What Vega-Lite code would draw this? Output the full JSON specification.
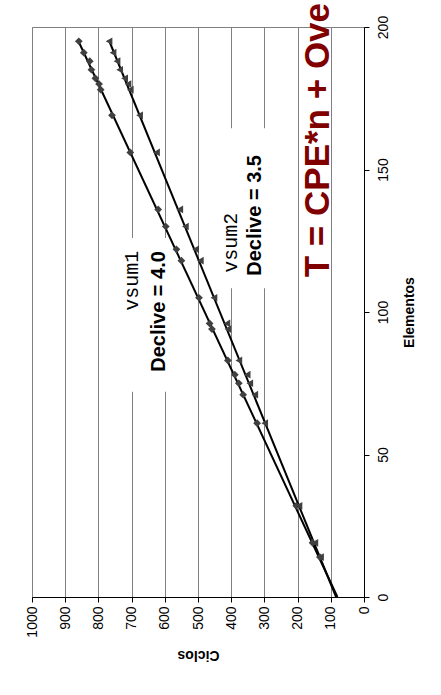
{
  "$schema": "https://vega.github.io/schema/vega-lite/v6.json",
  "autosize": {"type": "none"},
  "width": 332,
  "height": 570,
  "padding": {"left": 32, "top": 27, "right": 77, "bottom": 98},
  "background": "white",
  "config": {
    "view": {"stroke": "#808080", "strokeWidth": 1},
    "font": "Liberation Sans",
    "axis": {
      "labelFont": "Liberation Sans",
      "titleFont": "Liberation Sans",
      "labelColor": "black",
      "titleColor": "black",
      "domainColor": "black",
      "tickColor": "black",
      "labelFontSize": 14,
      "titleFontSize": 14,
      "titleFontWeight": "bold",
      "tickSize": 5,
      "labelOverlap": false
    }
  },
  "datasets": {
    "points": [
      {"serie": "vsum1", "Elementos": 195, "Ciclos": 859},
      {"serie": "vsum1", "Elementos": 191, "Ciclos": 844},
      {"serie": "vsum1", "Elementos": 188, "Ciclos": 826},
      {"serie": "vsum1", "Elementos": 185, "Ciclos": 821},
      {"serie": "vsum1", "Elementos": 182, "Ciclos": 809},
      {"serie": "vsum1", "Elementos": 180, "Ciclos": 798},
      {"serie": "vsum1", "Elementos": 178, "Ciclos": 793},
      {"serie": "vsum1", "Elementos": 169, "Ciclos": 759},
      {"serie": "vsum1", "Elementos": 156, "Ciclos": 704},
      {"serie": "vsum1", "Elementos": 136, "Ciclos": 620},
      {"serie": "vsum1", "Elementos": 130, "Ciclos": 597},
      {"serie": "vsum1", "Elementos": 122, "Ciclos": 565},
      {"serie": "vsum1", "Elementos": 118, "Ciclos": 550},
      {"serie": "vsum1", "Elementos": 105, "Ciclos": 497},
      {"serie": "vsum1", "Elementos": 96, "Ciclos": 465},
      {"serie": "vsum1", "Elementos": 94, "Ciclos": 458},
      {"serie": "vsum1", "Elementos": 83, "Ciclos": 410},
      {"serie": "vsum1", "Elementos": 78, "Ciclos": 389},
      {"serie": "vsum1", "Elementos": 75, "Ciclos": 377},
      {"serie": "vsum1", "Elementos": 71, "Ciclos": 364},
      {"serie": "vsum1", "Elementos": 61, "Ciclos": 322},
      {"serie": "vsum1", "Elementos": 32, "Ciclos": 204},
      {"serie": "vsum1", "Elementos": 19, "Ciclos": 155},
      {"serie": "vsum1", "Elementos": 14, "Ciclos": 133},
      {"serie": "vsum2", "Elementos": 195, "Ciclos": 768},
      {"serie": "vsum2", "Elementos": 191, "Ciclos": 756},
      {"serie": "vsum2", "Elementos": 188, "Ciclos": 744},
      {"serie": "vsum2", "Elementos": 185, "Ciclos": 736},
      {"serie": "vsum2", "Elementos": 182, "Ciclos": 721},
      {"serie": "vsum2", "Elementos": 180, "Ciclos": 711},
      {"serie": "vsum2", "Elementos": 178, "Ciclos": 704},
      {"serie": "vsum2", "Elementos": 169, "Ciclos": 676},
      {"serie": "vsum2", "Elementos": 156, "Ciclos": 625},
      {"serie": "vsum2", "Elementos": 136, "Ciclos": 555},
      {"serie": "vsum2", "Elementos": 130, "Ciclos": 538},
      {"serie": "vsum2", "Elementos": 122, "Ciclos": 507},
      {"serie": "vsum2", "Elementos": 118, "Ciclos": 493},
      {"serie": "vsum2", "Elementos": 105, "Ciclos": 452},
      {"serie": "vsum2", "Elementos": 96, "Ciclos": 413},
      {"serie": "vsum2", "Elementos": 94, "Ciclos": 410},
      {"serie": "vsum2", "Elementos": 83, "Ciclos": 377},
      {"serie": "vsum2", "Elementos": 78, "Ciclos": 352},
      {"serie": "vsum2", "Elementos": 75, "Ciclos": 344},
      {"serie": "vsum2", "Elementos": 71, "Ciclos": 329},
      {"serie": "vsum2", "Elementos": 61, "Ciclos": 299},
      {"serie": "vsum2", "Elementos": 32, "Ciclos": 196},
      {"serie": "vsum2", "Elementos": 19, "Ciclos": 148},
      {"serie": "vsum2", "Elementos": 14, "Ciclos": 131}
    ],
    "trend": [
      {"serie": "vsum1", "Elementos": 0, "Ciclos": 80},
      {"serie": "vsum1", "Elementos": 195, "Ciclos": 860},
      {"serie": "vsum2", "Elementos": 0, "Ciclos": 84},
      {"serie": "vsum2", "Elementos": 195, "Ciclos": 767}
    ],
    "boxes": [
      {"serie": "vsum1", "Ciclos": 742, "Ciclos2": 570, "Elementos": 126, "Elementos2": 72},
      {"serie": "vsum2", "Ciclos": 449, "Ciclos2": 248, "Elementos": 164.5, "Elementos2": 108.3}
    ],
    "labels": [
      {"text": "vsum1", "kind": "name", "Ciclos": 681, "Elementos": 111},
      {"text": "Declive = 4.0", "kind": "slope", "Ciclos": 600, "Elementos": 100.2},
      {"text": "vsum2", "kind": "name", "Ciclos": 384, "Elementos": 124.3},
      {"text": "Declive = 3.5", "kind": "slope", "Ciclos": 309, "Elementos": 133.9}
    ],
    "note": [
      {"text": "T = CPE*n + Ove", "Ciclos": 105, "Elementos": 112.2}
    ]
  },
  "encoding": {
    "x": {"field": "Ciclos", "type": "quantitative",
      "scale": {"domain": [0, 1000], "reverse": true, "nice": false, "zero": false},
      "axis": {
        "orient": "bottom",
        "title": "Ciclos",
        "values": [0, 100, 200, 300, 400, 500, 600, 700, 800, 900, 1000],
        "format": "d",
        "grid": true,
        "gridColor": "#808080",
        "gridWidth": 1,
        "labelAngle": 270,
        "labelPadding": 4,
        "titleAngle": 180,
        "titleBaseline": "bottom",
        "titlePadding": 10
      }
    },
    "y": {"field": "Elementos", "type": "quantitative",
      "scale": {"domain": [0, 200], "nice": false},
      "axis": {
        "orient": "right",
        "title": "Elementos",
        "values": [0, 50, 100, 150, 200],
        "format": "d",
        "grid": false,
        "labelAngle": 270,
        "labelPadding": 7,
        "titleAngle": 270,
        "titleBaseline": "top",
        "titlePadding": 12
      }
    }
  },
  "layer": [
    {
      "data": {"name": "boxes"},
      "mark": {"type": "rect", "fill": "white", "stroke": null},
      "encoding": {
        "x2": {"field": "Ciclos2"},
        "y2": {"field": "Elementos2"}
      }
    },
    {
      "data": {"name": "trend"},
      "mark": {"type": "line", "color": "black", "strokeWidth": 2},
      "encoding": {
        "detail": {"field": "serie"}
      }
    },
    {
      "data": {"name": "points"},
      "mark": {"type": "point", "filled": true, "opacity": 1, "color": "#404040"},
      "encoding": {
        "shape": {"field": "serie", "type": "nominal",
          "scale": {"domain": ["vsum1", "vsum2"], "range": ["diamond", "triangle-left"]},
          "legend": null},
        "size": {"value": 60}
      }
    },
    {
      "data": {"name": "labels"},
      "transform": [{"filter": "datum.kind == 'name'"}],
      "mark": {"type": "text", "angle": 270, "align": "center", "baseline": "alphabetic",
        "font": "Liberation Mono", "fontSize": 20, "color": "black"},
      "encoding": {
        "text": {"field": "text"}
      }
    },
    {
      "data": {"name": "labels"},
      "transform": [{"filter": "datum.kind == 'slope'"}],
      "mark": {"type": "text", "angle": 270, "align": "center", "baseline": "alphabetic",
        "font": "Liberation Sans", "fontWeight": "bold", "fontSize": 20, "color": "black"},
      "encoding": {
        "text": {"field": "text"}
      }
    },
    {
      "data": {"name": "note"},
      "mark": {"type": "text", "angle": 270, "align": "left", "baseline": "alphabetic",
        "font": "Liberation Sans", "fontWeight": "bold", "fontSize": 35, "color": "#800000"},
      "encoding": {
        "text": {"field": "text"}
      }
    }
  ]
}
